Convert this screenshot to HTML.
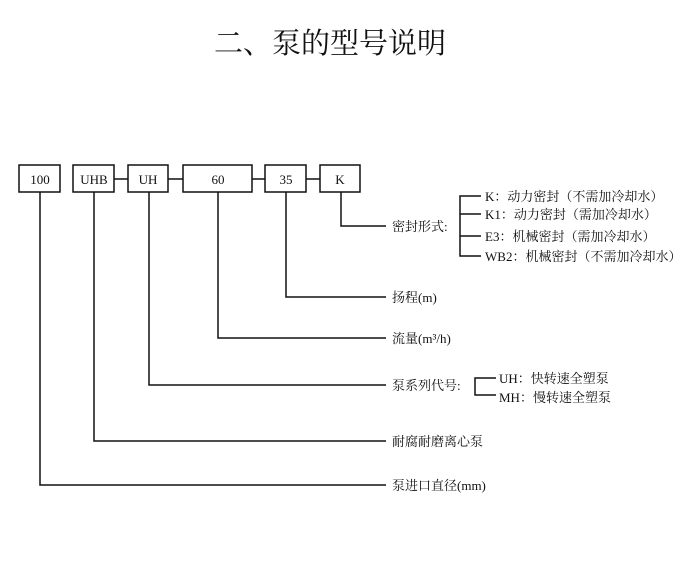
<!DOCTYPE html>
<html><head><meta charset="utf-8"><style>
body{margin:0;background:#fff;}
svg{display:block}
text{font-family:"Liberation Serif","Noto Serif CJK SC",serif;fill:#111;}
</style></head><body>
<svg width="700" height="564" viewBox="0 0 700 564">
<text x="330" y="53" font-size="29" text-anchor="middle">二、泵的型号说明</text>
<g fill="none" stroke="#111" stroke-width="1.5">
<rect x="19" y="165" width="41" height="27"/>
<rect x="73" y="165" width="41" height="27"/>
<rect x="128" y="165" width="40" height="27"/>
<rect x="183" y="165" width="69" height="27"/>
<rect x="265" y="165" width="41" height="27"/>
<rect x="320" y="165" width="40" height="27"/>
<path d="M114 179H128M168 179H183M252 179H265M306 179H320"/>
<path d="M341 192V226H386"/>
<path d="M481 196H460V256H481M460 214H481M460 236H481"/>
<path d="M286 192V297H386"/>
<path d="M218 192V338H386"/>
<path d="M149 192V385H386"/>
<path d="M496 378H475V395H496"/>
<path d="M94 192V441H386"/>
<path d="M40 192V485H386"/>
</g>
<g font-size="13" text-anchor="middle">
<text x="40" y="184">100</text>
<text x="94" y="184">UHB</text>
<text x="148" y="184">UH</text>
<text x="218" y="184">60</text>
<text x="286" y="184">35</text>
<text x="340" y="184">K</text>
</g>
<g font-size="13">
<text x="392" y="231">密封形式:</text>
<text x="485" y="201">K：动力密封（不需加冷却水）</text>
<text x="485" y="219">K1：动力密封（需加冷却水）</text>
<text x="485" y="241">E3：机械密封（需加冷却水）</text>
<text x="485" y="261">WB2：机械密封（不需加冷却水）</text>
<text x="392" y="302">扬程(m)</text>
<text x="392" y="343">流量(m³/h)</text>
<text x="392" y="390">泵系列代号:</text>
<text x="499" y="383">UH：快转速全塑泵</text>
<text x="499" y="402">MH：慢转速全塑泵</text>
<text x="392" y="446">耐腐耐磨离心泵</text>
<text x="392" y="490">泵进口直径(mm)</text>
</g>
</svg>
</body></html>
